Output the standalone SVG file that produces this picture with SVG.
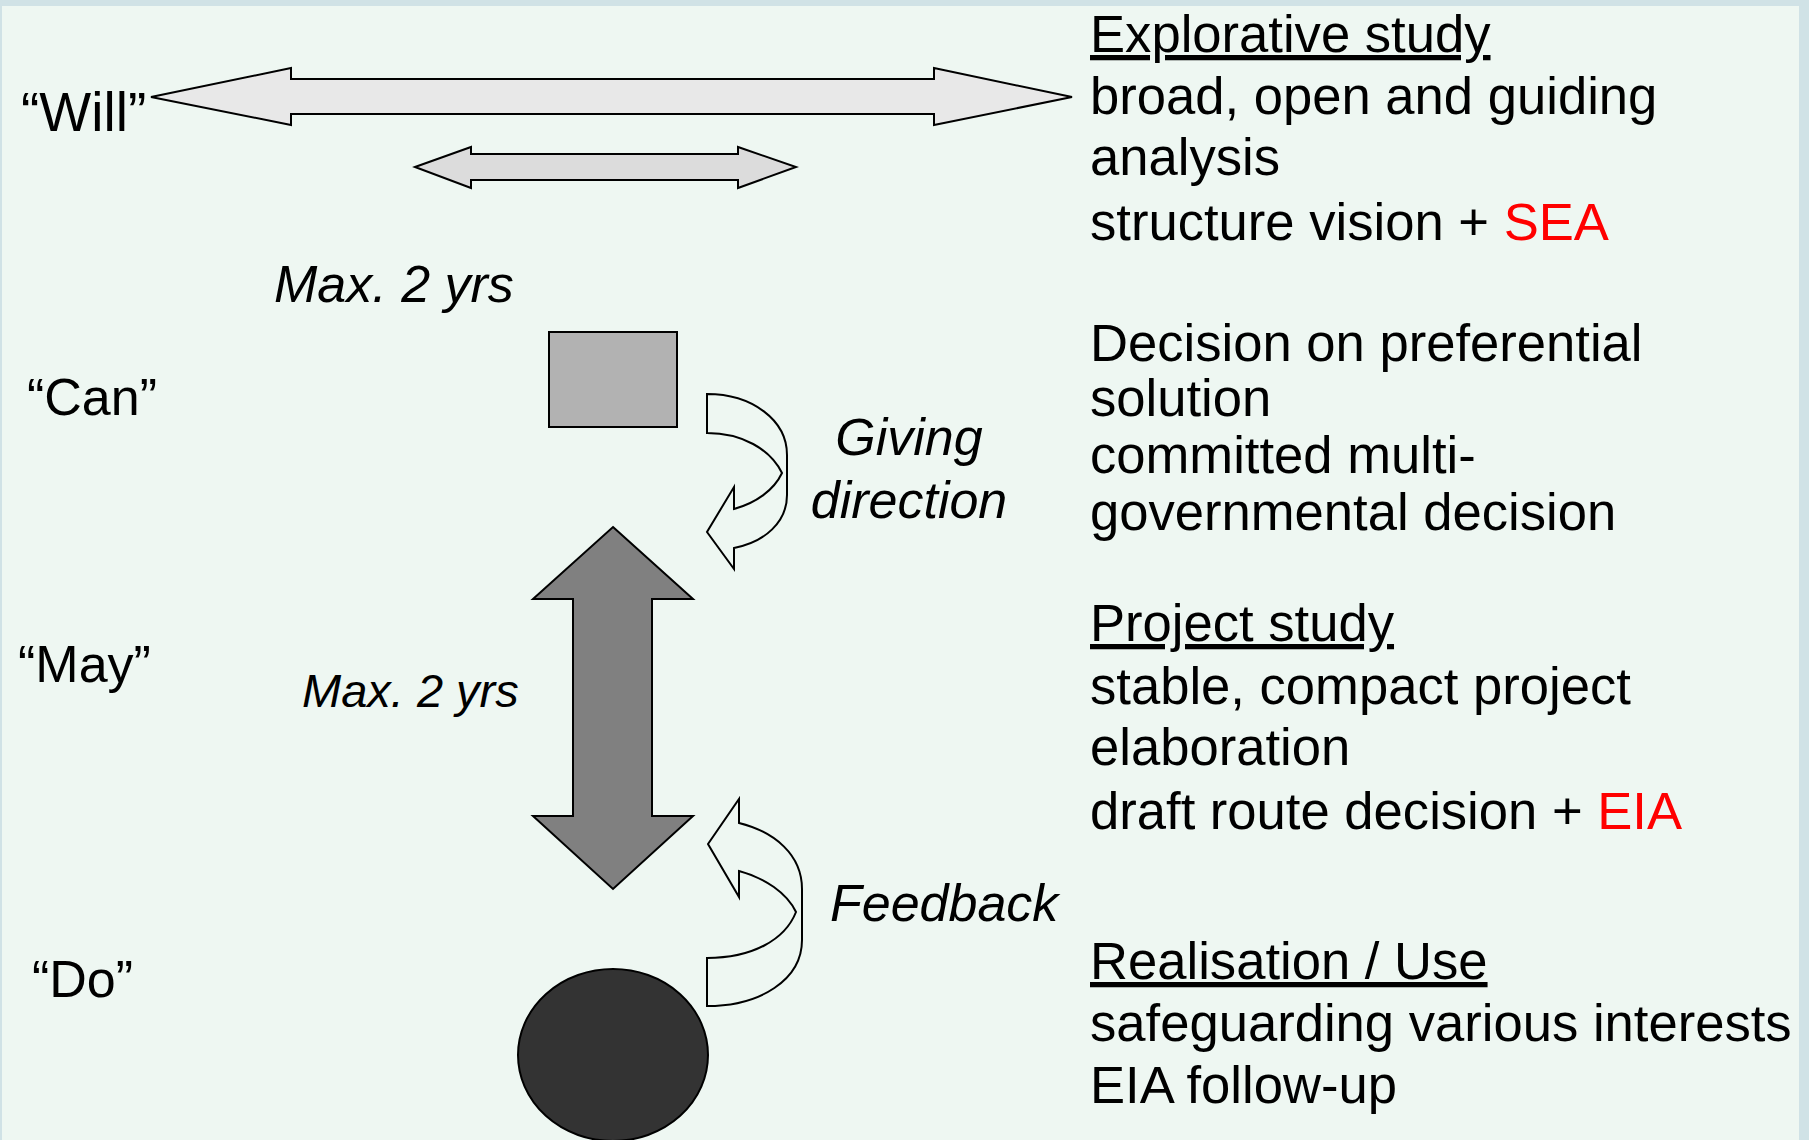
<svg xmlns="http://www.w3.org/2000/svg" width="1809" height="1140" viewBox="0 0 1809 1140">
<style>
.t{font-family:"Liberation Sans",Arial,sans-serif;font-size:52px;fill:#000}
.r{font-size:52.6px}
.i{font-style:italic}
.u{text-decoration:underline}
.red{fill:#FF0000}
.sh{stroke:#000;stroke-width:2;stroke-linejoin:miter}
</style>
<rect x="0" y="0" width="1809" height="1140" fill="#D0E2E6"/>
<rect x="2" y="6" width="1797" height="1134" fill="#EEF7F2"/>

<g id="labels-left">
<text class="t" x="21" y="131" style="font-size:55px">“Will”</text>
<text class="t" x="27" y="415">“Can”</text>
<text class="t" x="18" y="682">“May”</text>
<text class="t" x="32" y="997">“Do”</text>
</g>

<g id="will-arrow-wide">
<path class="sh" fill="#E8E8E8" d="M151,97 L291,68 L291,79 L934,79 L934,68 L1072,97 L934,125 L934,114 L291,114 L291,125 Z"/>
</g>
<g id="will-arrow-narrow">
<path class="sh" fill="#DCDCDC" d="M415,167 L471,147 L471,154 L738,154 L738,147 L796,167 L738,188 L738,180 L471,180 L471,188 Z"/>
</g>
<text class="t i" x="274" y="302">Max. 2 yrs</text>

<g id="can-box">
<rect class="sh" x="549" y="332" width="128" height="95" fill="#B2B2B2"/>
</g>

<g id="may-arrow">
<path class="sh" fill="#808080" d="M613,527 L693,599 L652,599 L652,816 L693,816 L613,889 L533,816 L573,816 L573,599 L533,599 Z"/>
</g>
<text class="t i" x="302" y="707" style="font-size:47px">Max. 2 yrs</text>

<g id="do-ellipse">
<ellipse class="sh" cx="613" cy="1055" rx="95" ry="86" fill="#333333"/>
</g>

<g id="connectors">
<path class="sh" fill="none" d="M707,394 C752,394 787,420 787,455 L787,495 C787,522 765,542 734,548 L734,569 L707,532 L734,487 L734,509 C756,503 774,490 782,473 C770,449 742,433 707,433 Z"/>
<path class="sh" fill="none" d="M707,1006 C760,1006 802,980 802,940 L802,889 C802,855 775,832 739,823 L739,799 L708,844 L739,897 L739,871 C765,878 787,893 796,912 C785,940 752,958 707,958 Z"/>
</g>
<text class="t i" x="909" y="455" text-anchor="middle">Giving</text>
<text class="t i" x="909" y="518" text-anchor="middle">direction</text>
<text class="t i" x="830" y="921">Feedback</text>

<g id="text-right">
<text class="t r u" x="1090" y="52">Explorative study</text>
<text class="t r" x="1090" y="114">broad, open and guiding</text>
<text class="t r" x="1090" y="175">analysis</text>
<text class="t r" x="1090" y="240">structure vision + <tspan class="red">SEA</tspan></text>
<text class="t r" x="1090" y="361">Decision on preferential</text>
<text class="t r" x="1090" y="416">solution</text>
<text class="t r" x="1090" y="473">committed multi-</text>
<text class="t r" x="1090" y="530">governmental decision</text>
<text class="t r u" x="1090" y="641">Project study</text>
<text class="t r" x="1090" y="704">stable, compact project</text>
<text class="t r" x="1090" y="765">elaboration</text>
<text class="t r" x="1090" y="829">draft route decision + <tspan class="red">EIA</tspan></text>
<text class="t r u" x="1090" y="979">Realisation / Use</text>
<text class="t r" x="1090" y="1041">safeguarding various interests</text>
<text class="t r" x="1090" y="1103">EIA follow-up</text>
</g>
</svg>
